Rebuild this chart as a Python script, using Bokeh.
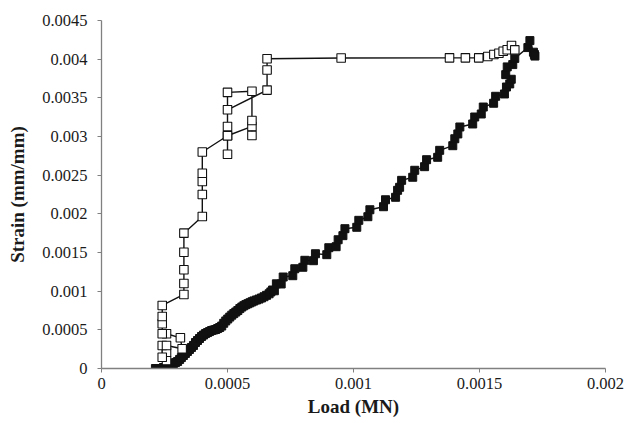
from bokeh.plotting import figure
from bokeh.models import FixedTicker, CustomJSTickFormatter, ColumnDataSource
from bokeh.embed import file_html
from bokeh.resources import INLINE

# ---- data ----
x_ticks = [0, 0.0005, 0.001, 0.0015, 0.002]
x_tick_labels = ["0", "0.0005", "0.001", "0.0015", "0.002"]
y_ticks = [0, 0.0005, 0.001, 0.0015, 0.002, 0.0025, 0.003, 0.0035, 0.004, 0.0045]
y_tick_labels = ["0", "0.0005", "0.001", "0.0015", "0.002", "0.0025", "0.003", "0.0035", "0.004", "0.0045"]

# open-square series
open_load = [0.000258, 0.000258, 0.000241, 0.000241, 0.000258, 0.00032, 0.000313, 0.000258,
             0.000241, 0.000241, 0.000241, 0.000241, 0.000327, 0.000327, 0.000327, 0.000327,
             0.000327, 0.0004, 0.0004, 0.0004, 0.0004, 0.0004, 0.0005, 0.0005, 0.0005,
             0.000597, 0.000597, 0.000597, 0.000597, 0.0005, 0.0005, 0.0005, 0.000657,
             0.000657, 0.000657, 0.000951, 0.001381, 0.001444, 0.001497, 0.001533, 0.001557,
             0.001577, 0.001594, 0.00161, 0.001627, 0.00164]
open_strain = [0.000103, 0.000211, 0.000146, 0.000297, 0.000297, 0.000255, 0.000397, 0.000449,
               0.000449, 0.000578, 0.000672, 0.000815, 0.000957, 0.0011, 0.001276, 0.001504,
               0.00175, 0.001966, 0.00225, 0.002418, 0.002525, 0.0028, 0.00301, 0.00277, 0.00301,
               0.00313, 0.003013, 0.003207, 0.003586, 0.00357, 0.00313, 0.003345, 0.0036,
               0.00386, 0.004005, 0.004015, 0.004017, 0.004017, 0.004017, 0.004034, 0.00406,
               0.004077, 0.004103, 0.004121, 0.004177, 0.00412]

# filled-square series: lower dense part
filled_load_a = [0.000214, 0.000222, 0.00023, 0.000238, 0.000246, 0.000254, 0.000262, 0.00027,
                 0.000278, 0.000286, 0.000294, 0.000302, 0.00031, 0.000317, 0.000325, 0.000333,
                 0.000341, 0.000349, 0.000357, 0.000365, 0.000373, 0.000381, 0.000389, 0.000397,
                 0.000405, 0.000413, 0.000421, 0.000429, 0.000437, 0.000445, 0.000453, 0.000461,
                 0.000469, 0.000477, 0.000485, 0.000493, 0.000501, 0.000509, 0.000517, 0.000525,
                 0.000533, 0.000541, 0.000549, 0.000557, 0.000565, 0.000573, 0.000581, 0.000589,
                 0.000597, 0.000605, 0.000615, 0.000625, 0.000635, 0.000645, 0.000655, 0.000665,
                 0.000672, 0.000679]
filled_strain_a = [0, 0, 0, 0, 0.000013, 0.000013, 0.000026, 0.000039,
                   0.000052, 0.000065, 0.000078, 0.000091, 0.000117, 0.000142, 0.000168, 0.000194,
                   0.00022, 0.000246, 0.000272, 0.000298, 0.000336, 0.000362, 0.000388, 0.000414,
                   0.000433, 0.000452, 0.000465, 0.000478, 0.000491, 0.000498, 0.000504, 0.000517,
                   0.00053, 0.000549, 0.000585, 0.000615, 0.00064, 0.000665, 0.00069, 0.00071,
                   0.00073, 0.00075, 0.000775, 0.000795, 0.000812, 0.000826, 0.000838, 0.00085,
                   0.000862, 0.000874, 0.000886, 0.000898, 0.000912, 0.000928, 0.000946, 0.000966,
                   0.00099, 0.001015]
# filled-square series: upper stepped part
filled_load_b = [0.000686, 0.000694, 0.000713, 0.000721, 0.000759, 0.000767, 0.000799, 0.000807,
                 0.000841, 0.000849, 0.000894, 0.000902, 0.000931, 0.000939, 0.000958, 0.000966,
                 0.001013, 0.001021, 0.001057, 0.001065, 0.001119, 0.001127, 0.001167, 0.001175,
                 0.001183, 0.001191, 0.001235, 0.001243, 0.001282, 0.00129, 0.001334, 0.001342,
                 0.001394, 0.001402, 0.001414, 0.001422, 0.001473, 0.001481, 0.001507, 0.001515,
                 0.001556, 0.001564, 0.001599, 0.001607, 0.00162, 0.001626, 0.001604, 0.00161,
                 0.001632, 0.00164, 0.001692, 0.0017, 0.001714, 0.001718, 0.00172]
filled_strain_b = [0.001005, 0.001095, 0.001093, 0.001183, 0.0012, 0.00129, 0.001309, 0.001399,
                   0.001394, 0.001484, 0.001472, 0.001562, 0.001575, 0.001665, 0.001718, 0.001808,
                   0.001826, 0.001916, 0.001963, 0.002053, 0.002092, 0.002182, 0.002214, 0.002304,
                   0.002343, 0.002433, 0.002473, 0.002563, 0.00261, 0.0027, 0.002731, 0.002821,
                   0.002881, 0.002971, 0.003033, 0.003123, 0.003162, 0.003252, 0.003291, 0.003381,
                   0.00343, 0.00352, 0.00355, 0.00364, 0.00368, 0.00374, 0.0038, 0.0039,
                   0.00393, 0.00401, 0.00415, 0.00424, 0.00409, 0.00406, 0.00404]

filled_load = filled_load_a + filled_load_b
filled_strain = filled_strain_a + filled_strain_b

# ---- figure ----
p = figure(width=630, height=423, x_range=(0, 0.002), y_range=(0, 0.0045),
           output_backend="svg", toolbar_location=None,
           min_border_left=101, min_border_right=25, min_border_top=20, min_border_bottom=55)
p.outline_line_color = None
p.xgrid.visible = False
p.ygrid.visible = False
p.background_fill_color = "white"
p.border_fill_color = "white"

fmt_code = """
let i = 0, b = 1e9;
for (let k = 0; k < tv.length; k++) { const d = Math.abs(tv[k] - tick); if (d < b) { b = d; i = k; } }
return tl[i];
"""
p.xaxis.ticker = FixedTicker(ticks=x_ticks)
p.yaxis.ticker = FixedTicker(ticks=y_ticks)
p.xaxis.formatter = CustomJSTickFormatter(args=dict(tv=x_ticks, tl=x_tick_labels), code=fmt_code)
p.yaxis.formatter = CustomJSTickFormatter(args=dict(tv=y_ticks, tl=y_tick_labels), code=fmt_code)

for ax in (p.xaxis, p.yaxis):
    ax.axis_line_color = "#808080"
    ax.axis_line_width = 1.3
    ax.major_tick_line_color = "#808080"
    ax.major_tick_in = 0
    ax.major_tick_out = 4
    ax.minor_tick_line_color = None
    ax.major_label_text_font = "Liberation Serif"
    ax.major_label_text_font_size = "16.5px"
    ax.major_label_text_color = "#1a1a1a"
    ax.axis_label_text_font = "Liberation Serif"
    ax.axis_label_text_font_style = "bold"
    ax.axis_label_text_font_size = "19px"
    ax.axis_label_text_color = "#1a1a1a"

p.xaxis.axis_label = "Load (MN)"
p.yaxis.axis_label = "Strain (mm/mm)"
p.xaxis.major_label_standoff = 5
p.xaxis.axis_label_standoff = 4
p.yaxis.major_label_standoff = 10
p.yaxis.axis_label_standoff = 11

src_f = ColumnDataSource(dict(x=filled_load, y=filled_strain))
src_o = ColumnDataSource(dict(x=open_load, y=open_strain))

p.line("x", "y", source=src_f, line_color="#111111", line_width=1.4)
p.scatter("x", "y", source=src_f, marker="square", size=8,
          fill_color="#111111", line_color="#111111", line_width=1)

p.line("x", "y", source=src_o, line_color="#111111", line_width=1.4)
p.scatter("x", "y", source=src_o, marker="square", size=8.5,
          fill_color="white", line_color="#111111", line_width=1.1)

open("out.html", "w").write(file_html(p, INLINE))
